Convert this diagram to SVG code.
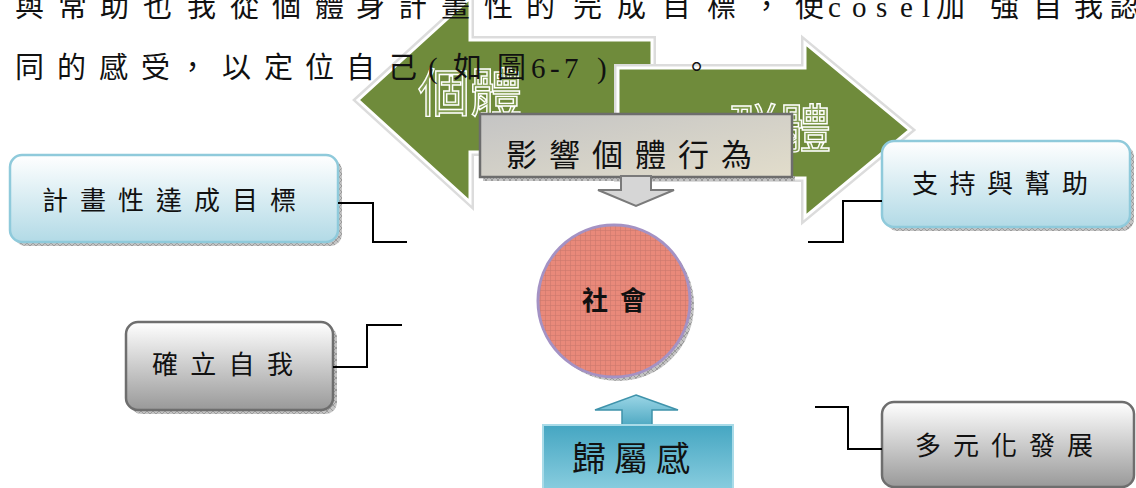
<svg xmlns="http://www.w3.org/2000/svg" width="1136" height="488" viewBox="0 0 1136 488">
<defs>
  <linearGradient id="gBlue" x1="0" y1="0" x2="0" y2="1">
    <stop offset="0" stop-color="#ffffff"/>
    <stop offset="1" stop-color="#b2dae6"/>
  </linearGradient>
  <linearGradient id="gGray" x1="0" y1="0" x2="0" y2="1">
    <stop offset="0" stop-color="#ffffff"/>
    <stop offset="1" stop-color="#999999"/>
  </linearGradient>
  <linearGradient id="gInfl" x1="0" y1="0" x2="1" y2="1">
    <stop offset="0" stop-color="#c4c4c4"/>
    <stop offset="1" stop-color="#e2ddcb"/>
  </linearGradient>
  <linearGradient id="gTeal" x1="0" y1="0" x2="0" y2="1">
    <stop offset="0" stop-color="#45a6c2"/>
    <stop offset="1" stop-color="#8ed0e1"/>
  </linearGradient>
  <linearGradient id="gUp" x1="0" y1="0" x2="0" y2="1">
    <stop offset="0" stop-color="#9bd6e6"/>
    <stop offset="1" stop-color="#4ea8c2"/>
  </linearGradient>
  <pattern id="hatch" width="6" height="6" patternUnits="userSpaceOnUse">
    <rect width="6" height="6" fill="#c4c4c4"/>
    <path d="M0 0L6 6M6 0L0 6" stroke="#8a8a8a" stroke-width="0.7"/>
  </pattern>
  <pattern id="grid" width="5" height="5" patternUnits="userSpaceOnUse">
    <path d="M0 0.5H5M0.5 0V5" stroke="#a8645a" stroke-width="0.6" opacity="0.45"/>
  </pattern>
</defs>
<style>
  .lbl{font-family:"Noto Sans CJK TC","Noto Sans CJK SC",sans-serif;fill:#111}
  .para{font-family:"Liberation Serif","Noto Sans CJK TC",serif;font-size:29px;fill:#111}
  .conn{fill:none;stroke:#000;stroke-width:2}
  .arrowfill{fill:#6f8b3b;stroke:#fff;stroke-width:3;stroke-linejoin:miter}
  .arrowglow{fill:none;stroke:#dcdcdc;stroke-width:8;stroke-linejoin:miter}
  .hollow{font-family:"Noto Sans CJK TC",sans-serif;font-size:52px;fill:#86a055;stroke:#fff;stroke-width:1.4}
  .shadow{fill:url(#hatch)}
  .bluebox{fill:url(#gBlue);stroke:#8fcadb;stroke-width:2.5}
  .graybox{fill:url(#gGray);stroke:#6e6e6e;stroke-width:2.5}
</style>

<g id="arrow-individual">
  <polygon class="arrowglow" points="358,100 470,-2 470,40 652,40 652,152 470,152 470,202"/>
  <polygon class="arrowfill" points="358,100 470,-2 470,40 652,40 652,152 470,152 470,202"/>
  <text class="hollow" x="418" y="112">個體</text>
</g>
<g id="arrow-group">
  <polygon class="arrowglow" points="618,68 805,68 805,43 910,130 805,217 805,178 618,178"/>
  <polygon class="arrowfill" points="618,68 805,68 805,43 910,130 805,217 805,178 618,178"/>
  <text class="hollow" x="727" y="148">群體</text>
</g>

<g id="paragraph">
  <text class="para" y="17"><tspan x="15">與</tspan><tspan x="58">常</tspan><tspan x="100">助</tspan><tspan x="143">也</tspan><tspan x="187">我</tspan><tspan x="230">從</tspan><tspan x="272">個</tspan><tspan x="315">體</tspan><tspan x="356">身</tspan><tspan x="398">計</tspan><tspan x="441">畫</tspan><tspan x="484">性</tspan><tspan x="526">的</tspan><tspan x="573">完</tspan><tspan x="617">成</tspan><tspan x="662">目</tspan><tspan x="707">標</tspan><tspan x="752">，</tspan><tspan x="795">使</tspan><tspan x="828">c</tspan><tspan x="852">o</tspan><tspan x="876">s</tspan><tspan x="900">e</tspan><tspan x="922">l</tspan><tspan x="936">加</tspan><tspan x="990">強</tspan><tspan x="1033">自</tspan><tspan x="1074">我</tspan><tspan x="1110">認</tspan></text>
  <text class="para" y="78"><tspan x="15">同</tspan><tspan x="57">的</tspan><tspan x="99">感</tspan><tspan x="141">受</tspan><tspan x="178">，</tspan><tspan x="222">以</tspan><tspan x="264">定</tspan><tspan x="305">位</tspan><tspan x="346">自</tspan><tspan x="388">己</tspan><tspan x="428">(</tspan><tspan x="453">如</tspan><tspan x="497">圖</tspan><tspan x="531">6</tspan><tspan x="550">-</tspan><tspan x="564">7</tspan><tspan x="597">)</tspan><tspan x="682">。</tspan></text>
</g>

<g id="node-influence">
  <rect class="shadow" x="483" y="176" width="312" height="5"/>
  <rect x="480" y="114" width="312" height="63" fill="url(#gInfl)" stroke="#6d6d6d" stroke-width="2.5"/>
  <polygon points="621,176 651,176 651,190 674,190 636,206 598,190 621,190" fill="#d6d6d6" stroke="#7a7a7a" stroke-width="2"/>
  <text class="lbl" x="506" y="166" font-size="31" letter-spacing="12">影響個體行為</text>
</g>

<g id="node-society">
  <circle class="shadow" cx="618" cy="305" r="76"/>
  <circle cx="614" cy="301" r="76" fill="#e9897a"/>
  <circle cx="614" cy="301" r="76" fill="url(#grid)" stroke="#a492c4" stroke-width="3"/>
  <text class="lbl" x="582" y="310" font-size="26" font-weight="bold" letter-spacing="12">社會</text>
</g>

<g id="node-belonging">
  <polygon points="636,395 678,410 652,410 652,426 622,426 622,410 595,410" fill="url(#gUp)" stroke="#3f93ab" stroke-width="1.5"/>
  <rect x="543" y="425" width="190" height="70" fill="url(#gTeal)" stroke="#a9dbe8" stroke-width="2"/>
  <text class="lbl" x="572" y="471" font-size="34" letter-spacing="8">歸屬感</text>
</g>

<g id="node-plan">
  <rect class="shadow" x="14" y="159" width="328" height="87" rx="12"/>
  <rect class="bluebox" x="10" y="155" width="328" height="87" rx="12"/>
  <text class="lbl" x="42" y="210" font-size="26" letter-spacing="12">計畫性達成目標</text>
</g>

<g id="node-support">
  <rect class="shadow" x="886" y="145" width="248" height="86" rx="12"/>
  <rect class="bluebox" x="882" y="141" width="248" height="86" rx="12"/>
  <text class="lbl" x="912" y="193" font-size="26" letter-spacing="11.5">支持與幫助</text>
</g>

<g id="node-self">
  <rect class="shadow" x="130" y="326" width="207" height="88" rx="12"/>
  <rect class="graybox" x="126" y="322" width="207" height="88" rx="12"/>
  <text class="lbl" x="152" y="374" font-size="26" letter-spacing="12.3">確立自我</text>
</g>

<g id="node-diverse">
  <rect class="graybox" x="882" y="402" width="252" height="85" rx="12"/>
  <text class="lbl" x="915" y="455" font-size="26" letter-spacing="12">多元化發展</text>
</g>

<g id="connectors">
  <polyline class="conn" points="338,203 373,203 373,242 407,242"/>
  <polyline class="conn" points="808,242 843,242 843,201 882,201"/>
  <polyline class="conn" points="333,367 367,367 367,325 402,325"/>
  <polyline class="conn" points="815,407 848,407 848,449 882,449"/>
</g>
</svg>
